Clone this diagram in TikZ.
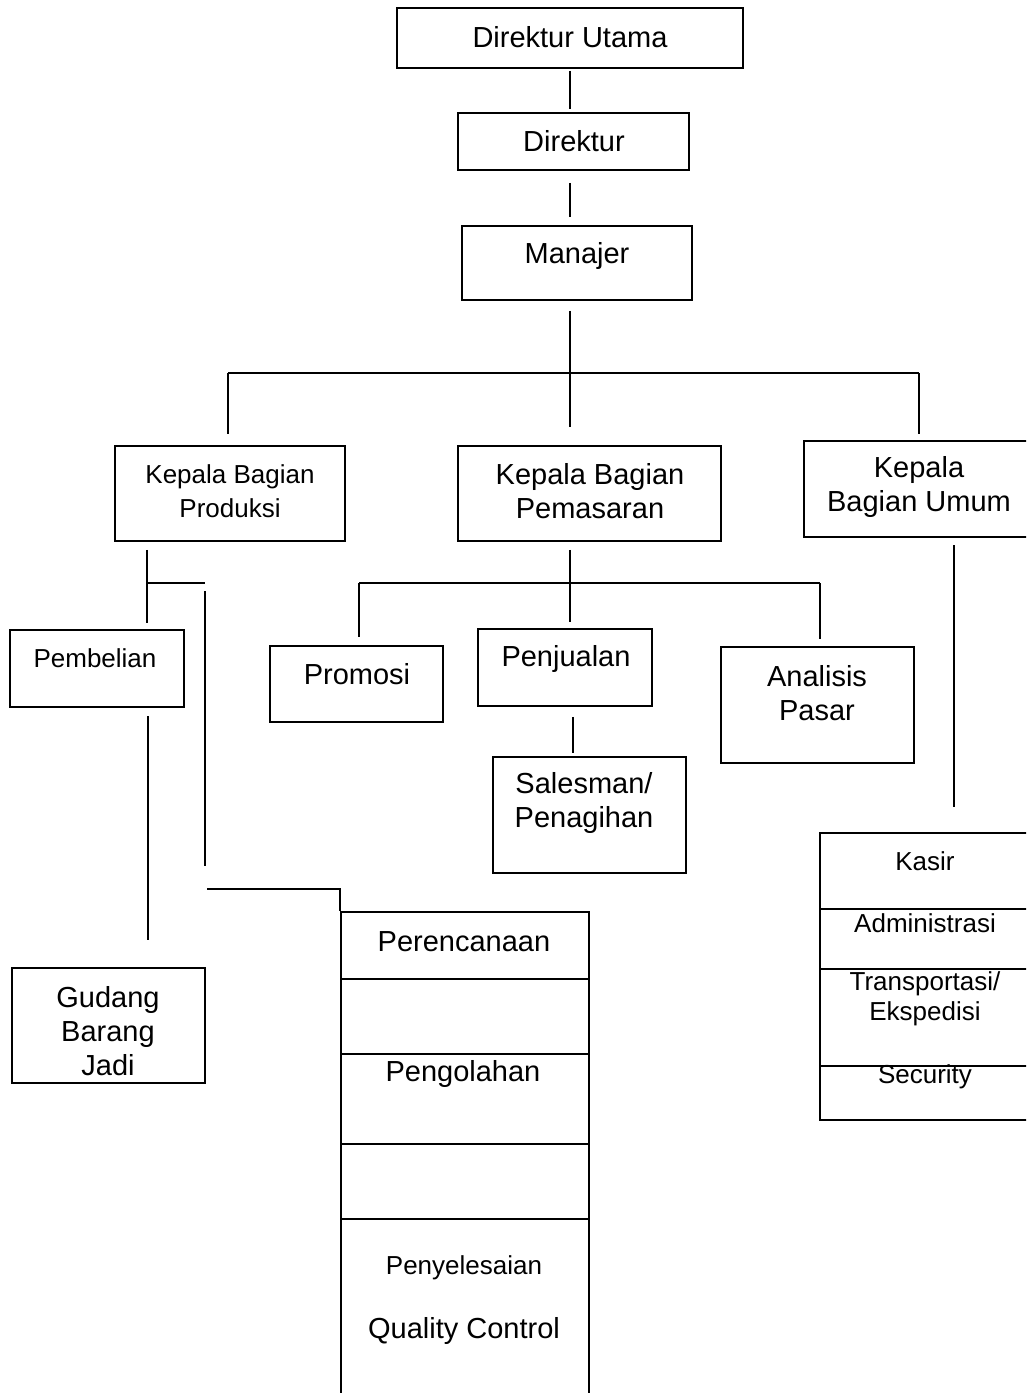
\documentclass[tikz,border=0pt]{standalone}
\usepackage{fontspec}
\setmainfont{Liberation Sans}
\usetikzlibrary{calc}
\begin{document}
\begin{tikzpicture}[x=1pt,y=-1pt,line width=1.6pt,
  box/.style={draw,rectangle,inner sep=0pt},
  bigt/.style={font=\fontsize{29}{34}\selectfont,align=center,inner sep=0pt},
  smallt/.style={font=\fontsize{26}{30}\selectfont,align=center,inner sep=0pt}]
\useasboundingbox (0,0) rectangle (1026,1393);
\clip (0,0) rectangle (1026,1393);
% boxes
\node[box,minimum width=346pt,minimum height=60pt] (du) at (570,38) {};
\node[box,minimum width=231pt,minimum height=57pt] (d) at (573.5,141.5) {};
\node[box,minimum width=230pt,minimum height=74pt] (m) at (577,263) {};
\node[box,minimum width=230pt,minimum height=95pt] (kp) at (230,493.5) {};
\node[box,minimum width=263pt,minimum height=95pt] (pm) at (589.5,493.5) {};
\node[box,minimum width=230pt,minimum height=96pt] (ku) at (919,489) {};
\node[box,minimum width=174pt,minimum height=77pt] (pb) at (97,668.5) {};
\node[box,minimum width=173pt,minimum height=76pt] (po) at (356.5,684) {};
\node[box,minimum width=174pt,minimum height=77pt] (pj) at (565,667.5) {};
\node[box,minimum width=193pt,minimum height=116pt] (an) at (817.5,705) {};
\node[box,minimum width=193pt,minimum height=116pt] (sm) at (589.5,815) {};
\node[box,minimum width=193pt,minimum height=115pt] (gd) at (108.5,1025.5) {};
\node[box,minimum width=248pt,minimum height=500pt] (pr) at (465,1162) {};
\node[box,minimum width=210pt,minimum height=287pt] (ks) at (925,976.5) {};
% dividers
\foreach \dy in {68,143,233,308}
  \draw ($(pr.north west)+(0,\dy)$) -- ($(pr.north east)+(0,\dy)$);
\foreach \dy in {77,137,234}
  \draw ($(ks.north west)+(0,\dy)$) -- ($(ks.north east)+(0,\dy)$);
% texts
\node[bigt] (tdu) at (570,37) {Direktur Utama};
\node[bigt] (td) at (574,141) {Direktur};
\node[bigt] (tm) at (577,256) {Manajer};
\node[smallt,font=\fontsize{26}{34}\selectfont] (tkp) at (230,491) {Kepala Bagian\\Produksi};
\node[bigt] (tpm) at (590,491) {Kepala Bagian\\Pemasaran};
\node[bigt] (tku) at (919,487) {Kepala\\Bagian Umum};
\node[smallt] (tpb) at (95,658) {Pembelian};
\node[bigt] (tpo) at (357,674) {Promosi};
\node[bigt] (tpj) at (566,659) {Penjualan};
\node[bigt] (tan) at (817,693) {Analisis\\Pasar};
\node[bigt] (tsm) at (584,803) {Salesman/\\Penagihan};
\node[bigt] (tgd) at (108,1031) {Gudang\\Barang\\Jadi};
\node[bigt] (tpr1) at (464,942) {Perencanaan};
\node[bigt] (tpr2) at (463,1074) {Pengolahan};
\node[smallt] (tpr3) at (464,1268) {Penyelesaian};
\node[bigt] (tpr4) at (464,1331) {Quality Control};
\node[smallt] (tks1) at (925,861) {Kasir};
\node[smallt] (tks2) at (925,923) {Administrasi};
\node[smallt] (tks3) at (925,999) {Transportasi/\\Ekspedisi};
\node[smallt] (tks4) at (925,1077) {Security};
% junction coordinates
\coordinate (jm) at (570,373);
\coordinate (jl) at (228,373);
\coordinate (jr) at (919,373);
\coordinate (jp) at (147,583);
\coordinate (jp2) at (205,583);
\coordinate (jq1) at (205,591);
\coordinate (jq2) at (205,866);
\coordinate (js) at (207,889);
\coordinate (jt) at (340,889);
\coordinate (xg1) at (148,716);
\coordinate (xg2) at (148,940);
\coordinate (jk) at (570,583);
\coordinate (jpro) at (359,583);
\coordinate (jana) at (820,583);
\coordinate (xs) at (573,716);
\coordinate (xu) at (954,545);
% connectors
\draw[shorten <=2pt,shorten >=3pt] (du.south) -- (du.south |- d.north);
\draw[shorten <=12pt,shorten >=8pt] (d.south -| jm) -- (m.north -| jm);
\draw[shorten <=10pt,shorten >=18pt] (m.south -| jm) -- (pm.north -| jm);
\draw (jl) -- (jr);
\draw[shorten >=11pt] (jl) -- (jl |- kp.north);
\draw[shorten >=6pt] (jr) -- (jr |- ku.north);
\draw[shorten <=8pt,shorten >=6pt] (jp |- kp.south) -- (jp |- pb.north);
\draw (jp) -- (jp2);
\draw (jq1) -- (jq2);
\draw (js) -- (jt) -- (jt |- pr.north);
\draw (xg1) -- (xg2);
\draw[shorten <=8pt,shorten >=6pt] (jk |- pm.south) -- (jk |- pj.north);
\draw (jpro) -- (jana);
\draw[shorten >=8pt] (jpro) -- (jpro |- po.north);
\draw[shorten >=7pt] (jana) -- (jana |- an.north);
\draw[shorten <=10pt,shorten >=3pt] (xs |- pj.south) -- (xs |- sm.north);
\draw[shorten >=25pt] (xu) -- (xu |- ks.north);
\end{tikzpicture}
\end{document}
